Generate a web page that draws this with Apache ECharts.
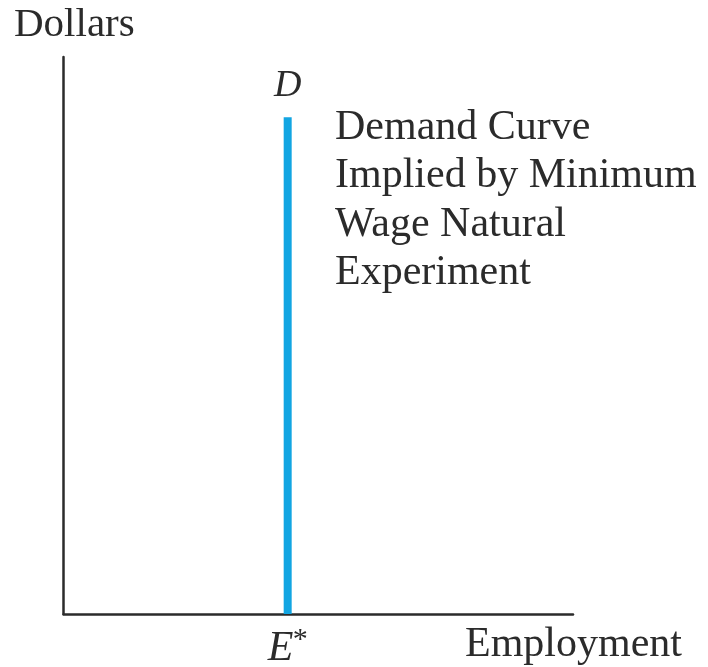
<!DOCTYPE html>
<html>
<head>
<meta charset="utf-8">
<script src="https://cdn.jsdelivr.net/npm/echarts@6/dist/echarts.min.js"></script>
<style>
  html, body { margin: 0; padding: 0; background: #fff; }
  #main { width: 708px; height: 667px; }
</style>
</head>
<body>
<div id="main"></div>
<script>
// --- données : courbe de demande verticale en E* --- //
const demandX = [44, 44];
const demandY = [0, 89.2];
const noteLines = ['Demand Curve', 'Implied by Minimum', 'Wage Natural', 'Experiment'];
const yTitle = 'Dollars';
const xTitle = 'Employment';

const serif = '"Liberation Serif", "DejaVu Serif", serif';
const ink = '#2b2b2b';

const chart = echarts.init(document.getElementById('main'));

// textes posés par leur ligne de base (middle ~ baseline - 0.33 em)
function label(text, x, baseline, size, extra) {
  return {
    type: 'text', x: x, y: baseline - 0.33 * size,
    style: Object.assign({ text: text, font: size + 'px ' + serif, fill: ink, verticalAlign: 'middle' }, extra || {})
  };
}

const texts = [
  label(yTitle, 14, 39, 41),
  label(xTitle, 465, 659, 42)
];
// bloc de texte à droite de la courbe
noteLines.forEach((t, i) => {
  texts.push(label(t, 335, 142 + i * 48.3, 42));
});

chart.setOption({
  animation: false,
  grid: { left: 63.5, top: 57, right: 135, bottom: 53 },
  xAxis: {
    type: 'value', min: 0, max: 100,
    axisLine: { show: true, onZero: false, lineStyle: { color: ink, width: 2.5 } },
    axisTick: { show: false }, axisLabel: { show: false }, splitLine: { show: false }
  },
  yAxis: {
    type: 'value', min: 0, max: 100,
    axisLine: { show: true, onZero: false, lineStyle: { color: ink, width: 2.5 } },
    axisTick: { show: false }, axisLabel: { show: false }, splitLine: { show: false }
  },
  series: [{
    type: 'line',
    data: demandX.map((x, i) => [x, demandY[i]]),
    symbol: 'none',
    lineStyle: { color: '#12a5e2', width: 8, cap: 'butt' },
    z: 1
  }],
  graphic: texts
});

// --- étiquettes D et E* placées depuis les données --- //
const ptTop = chart.convertToPixel({ gridIndex: 0 }, [demandX[1], demandY[1]]);
const ptBot = chart.convertToPixel({ gridIndex: 0 }, [demandX[0], demandY[0]]);
chart.setOption({
  graphic: texts.concat([
    { type: 'text', x: ptTop[0], y: ptTop[1] - 31,
      style: { text: 'D', font: 'italic 38px ' + serif, fill: ink, align: 'center', verticalAlign: 'middle' } },
    { type: 'text', x: ptBot[0] - 20, y: ptBot[1] + 35,
      style: { text: 'E', font: 'italic 42px ' + serif, fill: ink, verticalAlign: 'middle' } },
    { type: 'text', x: ptBot[0] + 5, y: ptBot[1] + 26,
      style: { text: '*', font: '30px ' + serif, fill: ink, verticalAlign: 'middle' } }
  ])
});
</script>
</body>
</html>
